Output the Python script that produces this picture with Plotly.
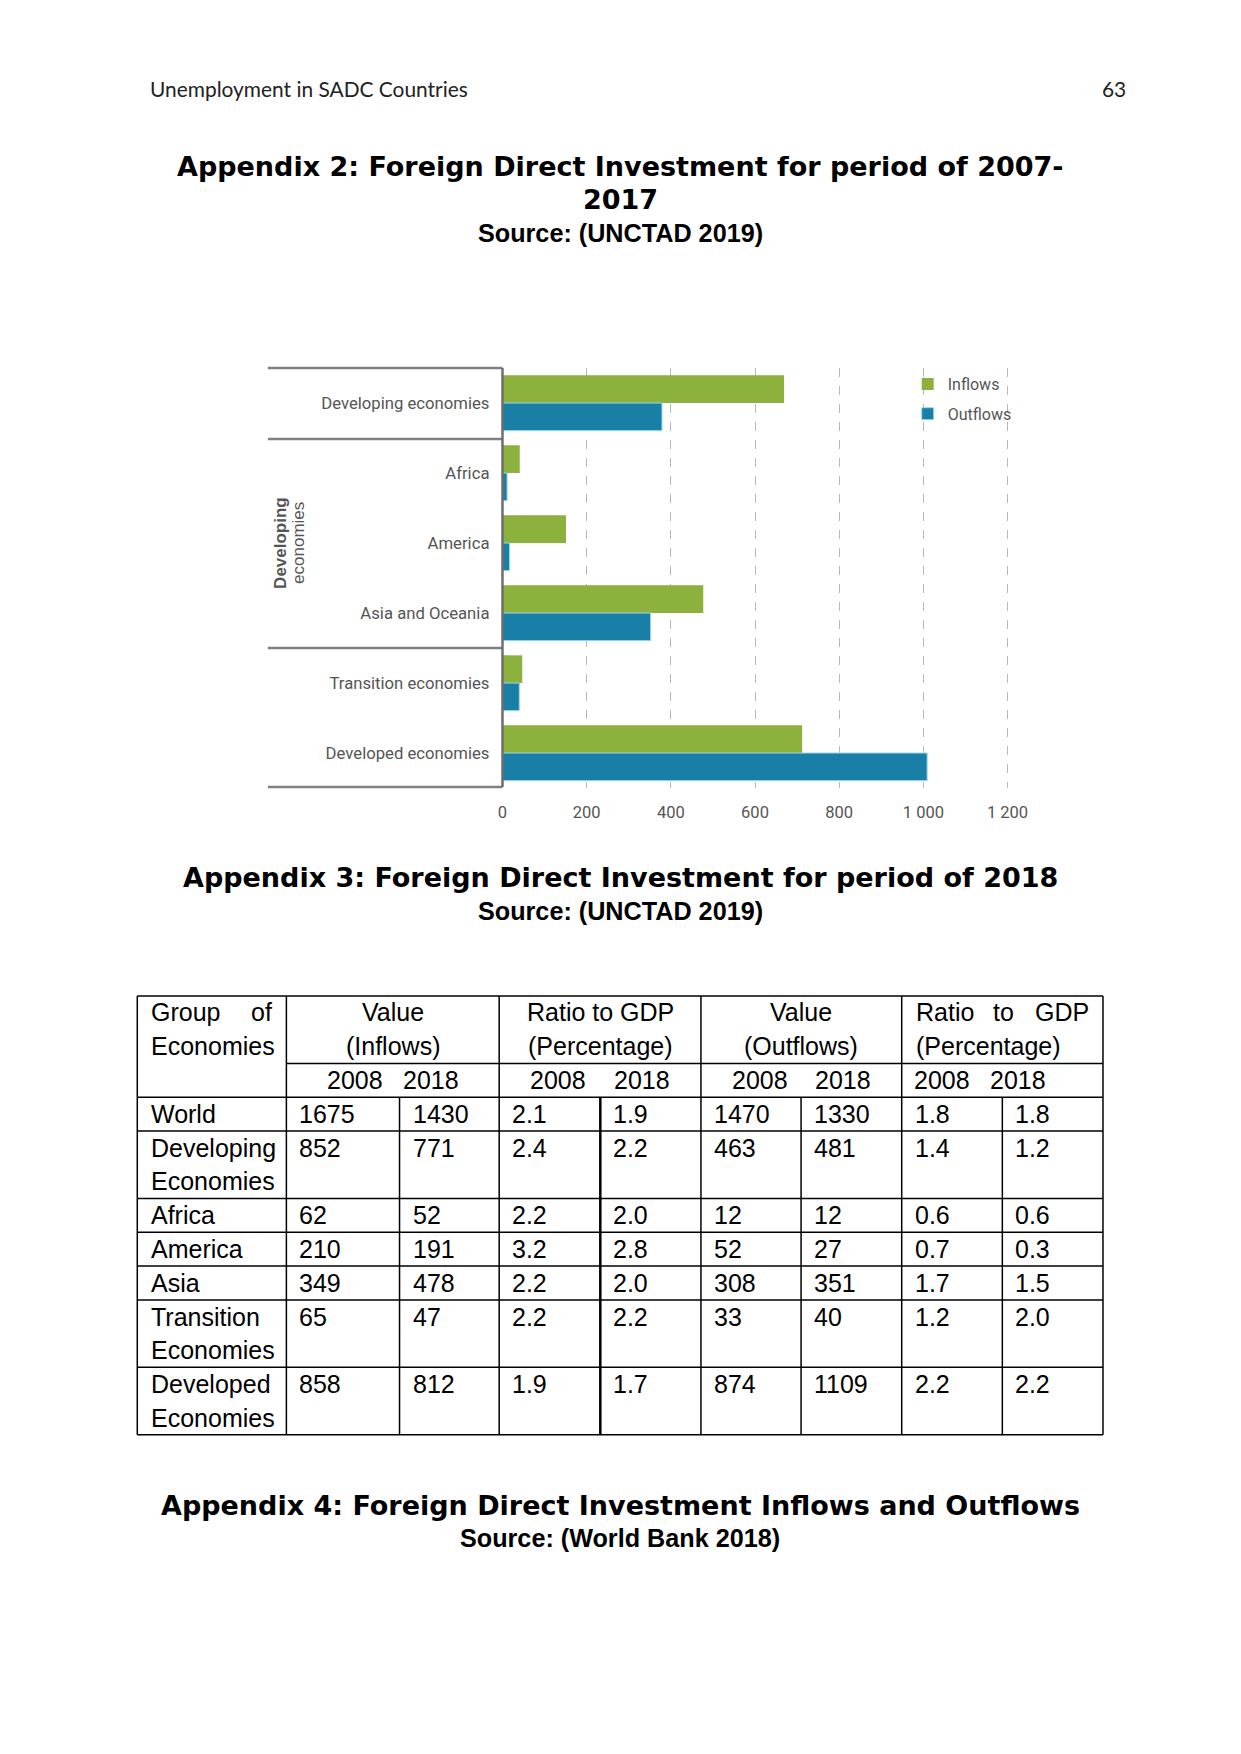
import plotly.graph_objects as go

# ---------------- data ----------------
categories = ["Developing economies", "Africa", "America", "Asia and Oceania",
              "Transition economies", "Developed economies"]
inflows = [669, 41, 151, 477, 47, 712]
outflows = [379, 11, 17, 352, 40, 1009]
x_tick_vals = [0, 200, 400, 600, 800, 1000, 1200]
x_tick_text = ["0", "200", "400", "600", "800", "1 000", "1 200"]

row_labels = ["World", "Developing\nEconomies", "Africa", "America", "Asia",
              "Transition\nEconomies", "Developed\nEconomies"]
value_in_2008 = ["1675", "852", "62", "210", "349", "65", "858"]
value_in_2018 = ["1430", "771", "52", "191", "478", "47", "812"]
ratio_in_2008 = ["2.1", "2.4", "2.2", "3.2", "2.2", "2.2", "1.9"]
ratio_in_2018 = ["1.9", "2.2", "2.0", "2.8", "2.0", "2.2", "1.7"]
value_out_2008 = ["1470", "463", "12", "52", "308", "33", "874"]
value_out_2018 = ["1330", "481", "12", "27", "351", "40", "1109"]
ratio_out_2008 = ["1.8", "1.4", "0.6", "0.7", "1.7", "1.2", "2.2"]
ratio_out_2018 = ["1.8", "1.2", "0.6", "0.3", "1.5", "2.0", "2.2"]
years = ["2008", "2018"]

# ---------------- page geometry ----------------
PAGE_W, PAGE_H = 1241, 1754
OFF = 8  # body margin of the html page
W, H = PAGE_W - 2 * OFF, PAGE_H - 2 * OFF
SX_A, SX_B = 0.984, 5.6  # observed horizontal capture mapping
GREEN = "#8cb13c"
BLUE = "#1a7fa6"
GREY_TXT = "#555555"
COND = "Roboto"


def px(x):
    return ((x - SX_B) / SX_A - OFF) / W


def py(y):
    return 1 - (y - OFF) / H


fig = go.Figure()

fig.add_trace(go.Bar(y=categories, x=inflows, orientation="h", name="Inflows",
                     marker=dict(color=GREEN, line=dict(width=0)),
                     legendgroup="in"))
fig.add_trace(go.Bar(y=categories, x=outflows, orientation="h", name="Outflows",
                     marker=dict(color=BLUE, line=dict(color="#9fd8ef", width=1)),
                     legendgroup="out"))

x0_px, plot_top, plot_bot = 502.3, 368, 788
unit = (1006.7 - 502.3) / 1200
xmax = 1218
x1_px = x0_px + xmax * unit

annotations = []
shapes = []


def text(t, x, y, size, family, color="#000000", xanchor="center", bold=False,
         angle=0):
    annotations.append(dict(
        text=("<b>%s</b>" % t) if bold else t, x=px(x), y=py(y),
        xref="paper", yref="paper", xanchor=xanchor, yanchor="middle",
        showarrow=False, textangle=angle,
        font=dict(size=size, family=family, color=color)))


def line(xa, ya, xb, yb, color="#000000", width=1.5):
    shapes.append(dict(type="line", xref="paper", yref="paper",
                       x0=px(xa), y0=py(ya), x1=px(xb), y1=py(yb),
                       line=dict(color=color, width=width), layer="above"))


# page header
text("Unemployment in SADC Countries", 148, 88, 20.9, "Lato", "#222222", "left")
text("63", 1127, 88, 20.9, "Lato", "#222222", "right")

TITLE_F = "DejaVu Sans"
SRC_F = "Liberation Sans"
TITLE_S = 27.0
SRC_S = 25.2
text("Appendix 2: Foreign Direct Investment for period of 2007-", 620, 166,
     TITLE_S, TITLE_F, bold=True)
text("2017", 620, 199, TITLE_S, TITLE_F, bold=True)
text("Source: (UNCTAD 2019)", 620, 233, SRC_S, SRC_F, bold=True)
text("Appendix 3: Foreign Direct Investment for period of 2018", 620, 877,
     TITLE_S, TITLE_F, bold=True)
text("Source: (UNCTAD 2019)", 620, 911, SRC_S, SRC_F, bold=True)
text("Appendix 4: Foreign Direct Investment Inflows and Outflows", 620, 1505,
     TITLE_S, TITLE_F, bold=True)
text("Source: (World Bank 2018)", 620, 1538, SRC_S, SRC_F, bold=True)

# chart bracket lines
BR = "#808080"
for yy in [368, 439, 648, 787]:
    line(268, yy, x0_px, yy, BR, 2.5)
line(x0_px, 368, x0_px, 787, "#6e6e6e", 2.5)
text("<b>Developing</b>", 280, 543, 17, "Liberation Sans", GREY_TXT, angle=-90)
text("economies", 298, 543, 17, "Liberation Sans", GREY_TXT, angle=-90)

# ---------------- table ----------------
col_x = [137.6, 286.5, 399.5, 499, 600, 700.5, 800.5, 901, 1001.5, 1102]
row_y = [996, 1063.4, 1097.3, 1131, 1198.5, 1232.3, 1266, 1300, 1367.3, 1434.7]
LINE_H = 33.7
TF = "Liberation Sans"
TS = 25
pad = 11

# horizontal lines
for i, yy in enumerate(row_y):
    if i == 1:
        line(col_x[1], yy, col_x[-1], yy)
    else:
        line(col_x[0], yy, col_x[-1], yy)
# vertical lines
for i, xx in enumerate(col_x):
    if i in (0, 1, 3, 5, 7, 9):
        line(xx, row_y[0], xx, row_y[-1])
    else:
        line(xx, row_y[2], xx, row_y[-1], width=2.5 if i == 4 else 1.5)

# header texts
hy1 = row_y[0] + 16
hy2 = hy1 + LINE_H
hy3 = row_y[1] + 16.5
text("Group", col_x[0] + 12, hy1, TS, TF, xanchor="left")
text("of", col_x[1] - 12, hy1, TS, TF, xanchor="right")
text("Economies", col_x[0] + 12, hy2, TS, TF, xanchor="left")


def mid(a, b):
    return (a + b) / 2


text("Value", mid(col_x[1], col_x[3]), hy1, TS, TF)
text("(Inflows)", mid(col_x[1], col_x[3]), hy2, TS, TF)
text("Ratio to GDP", mid(col_x[3], col_x[5]), hy1, TS, TF)
text("(Percentage)", mid(col_x[3], col_x[5]), hy2, TS, TF)
text("Value", mid(col_x[5], col_x[7]), hy1, TS, TF)
text("(Outflows)", mid(col_x[5], col_x[7]), hy2, TS, TF)
text("Ratio", col_x[7] + 12, hy1, TS, TF, xanchor="left")
text("to", 1002.6, hy1, TS, TF)
text("GDP", col_x[9] - 12, hy1, TS, TF, xanchor="right")
text("(Percentage)", col_x[7] + 12, hy2, TS, TF, xanchor="left")

year_centres = [(355, 431), (558, 642), (759, 842), (941, 1017)]
for c08, c18 in year_centres:
    text(years[0], c08, hy3, TS, TF)
    text(years[1], c18, hy3, TS, TF)

columns = [value_in_2008, value_in_2018, ratio_in_2008, ratio_in_2018,
           value_out_2008, value_out_2018, ratio_out_2008, ratio_out_2018]
for r, lab in enumerate(row_labels):
    top = row_y[2 + r]
    for k, part in enumerate(lab.split("\n")):
        text(part, col_x[0] + 12, top + 16.5 + k * LINE_H, TS, TF, xanchor="left")
    for c, col in enumerate(columns):
        text(col[r], col_x[1 + c] + pad, top + 16.5, TS, TF, xanchor="left")

fig.update_layout(
    width=W, height=H,
    margin=dict(l=0, r=0, t=0, b=0),
    paper_bgcolor="white", plot_bgcolor="white",
    barmode="group", bargap=0.21, bargroupgap=0,
    showlegend=True,
    legend=dict(x=px(907), y=py(367), xanchor="left", yanchor="top",
                bgcolor="rgba(0,0,0,0)", traceorder="grouped", tracegroupgap=6,
                font=dict(family=COND, size=16, color=GREY_TXT)),
    xaxis=dict(domain=[px(x0_px), px(x1_px)], range=[0, xmax],
               tickvals=x_tick_vals, ticktext=x_tick_text,
               showgrid=True, gridcolor="#b8b8b8", griddash="dash", gridwidth=1,
               zeroline=False, showline=False, ticks="",
               ticklabelstandoff=12,
               tickfont=dict(family=COND, size=16.5, color=GREY_TXT)),
    yaxis=dict(domain=[py(plot_bot), py(plot_top)],
               categoryorder="array", categoryarray=categories,
               autorange="reversed", showgrid=False, zeroline=False,
               showline=False, ticks="", ticklabelstandoff=12,
               tickfont=dict(family=COND, size=16.7, color=GREY_TXT)),
    annotations=annotations,
    shapes=shapes,
)

fig.write_html("out.html")
